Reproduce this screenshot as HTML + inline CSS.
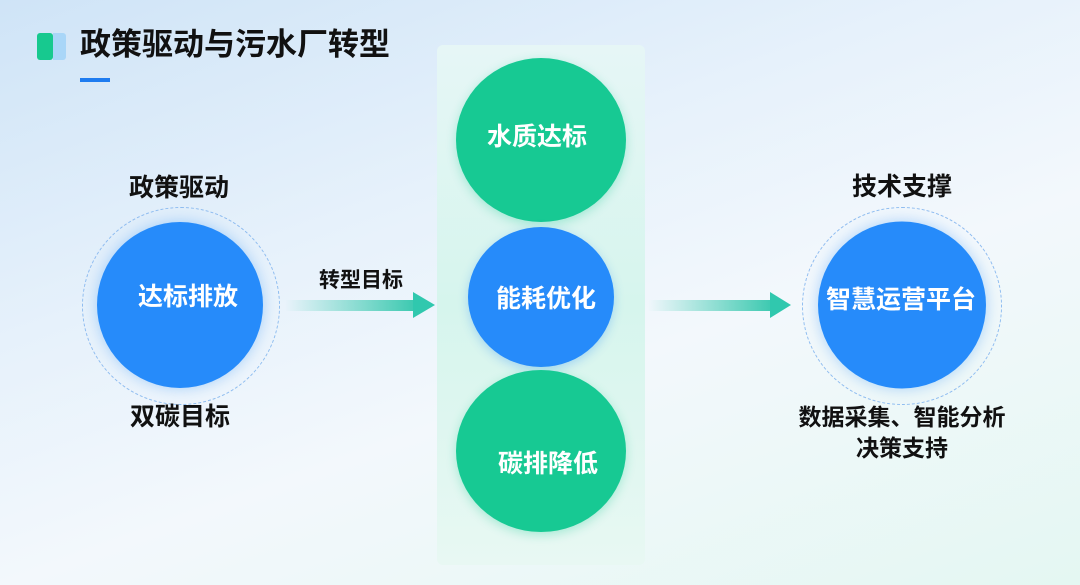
<!DOCTYPE html>
<html><head><meta charset="utf-8"><style>
*{margin:0;padding:0;box-sizing:border-box}
body{width:1080px;height:585px;overflow:hidden;position:relative;font-family:"Liberation Sans","Noto Sans CJK SC",sans-serif;font-weight:bold;
background:linear-gradient(160deg,#cfe4f7 0%,#e6f1fb 35%,#f3f8fc 60%,#e4f7f2 100%)}
.a{position:absolute}
.t{position:absolute;transform:translate(-50%,-50%);white-space:nowrap;color:#111}
.c{position:absolute;border-radius:50%;transform:translate(-50%,-50%)}
.w{color:#fff}
</style></head><body>
<div class="a" style="left:37px;top:33px;width:16px;height:27px;background:#17c98f;border-radius:3px"></div>
<div class="a" style="left:53px;top:33px;width:13px;height:27px;background:#a9d6f8;border-radius:0 3px 3px 0"></div>
<div class="a" style="left:80px;top:25px;font-size:31px;color:#111;line-height:40px">政策驱动与污水厂转型</div>
<div class="a" style="left:80px;top:78px;width:30px;height:4px;background:#1e7cf0"></div>

<div class="a" style="left:437px;top:45px;width:208px;height:520px;background:linear-gradient(#e6f6f6,#d6f5ed 50%,#e8f8f3);border-radius:6px"></div>

<!-- left -->
<div class="c" style="left:181px;top:306px;width:198px;height:198px;border:1.5px dashed #8fbdf0"></div>
<div class="c" style="left:180px;top:305px;width:166px;height:166px;background:#268bfa;box-shadow:0 0 14px rgba(38,139,250,.35)"></div>
<div class="t w" style="left:188px;top:295px;font-size:25px">达标排放</div>
<div class="t" style="left:179px;top:186px;font-size:25px">政策驱动</div>
<div class="t" style="left:180px;top:415px;font-size:25px">双碳目标</div>

<div class="t" style="left:361px;top:279px;font-size:21px">转型目标</div>
<div class="a" style="left:285px;top:300px;width:130px;height:11px;background:linear-gradient(90deg,rgba(60,200,180,0),#3cc9b0)"></div>
<div class="a" style="left:413px;top:292px;width:0;height:0;border-top:13px solid transparent;border-bottom:13px solid transparent;border-left:22px solid #30c8ae"></div>

<!-- middle -->
<div class="c" style="left:541px;top:140px;width:170px;height:164px;background:#17c993;box-shadow:0 3px 10px rgba(23,201,147,.3)"></div>
<div class="t w" style="left:537px;top:135px;font-size:25px">水质达标</div>
<div class="c" style="left:541px;top:297px;width:146px;height:140px;background:#268bfa;box-shadow:0 3px 10px rgba(38,139,250,.3)"></div>
<div class="t w" style="left:546px;top:297px;font-size:25px">能耗优化</div>
<div class="c" style="left:541px;top:451px;width:170px;height:162px;background:#17c993;box-shadow:0 3px 10px rgba(23,201,147,.3)"></div>
<div class="t w" style="left:548px;top:462px;font-size:25px">碳排降低</div>

<div class="a" style="left:648px;top:300px;width:124px;height:11px;background:linear-gradient(90deg,rgba(60,200,180,0),#3cc9b0)"></div>
<div class="a" style="left:770px;top:292px;width:0;height:0;border-top:13px solid transparent;border-bottom:13px solid transparent;border-left:21px solid #30c8ae"></div>

<!-- right -->
<div class="c" style="left:902px;top:306px;width:200px;height:198px;border:1.5px dashed #8fbdf0"></div>
<div class="c" style="left:902px;top:305px;width:168px;height:167px;background:#268bfa;box-shadow:0 0 14px rgba(38,139,250,.35)"></div>
<div class="t w" style="left:901px;top:298px;font-size:25px">智慧运营平台</div>
<div class="t" style="left:902px;top:185px;font-size:25px">技术支撑</div>
<div class="t" style="left:902px;top:415px;font-size:23px">数据采集、智能分析</div>
<div class="t" style="left:902px;top:446px;font-size:23px">决策支持</div>
</body></html>
